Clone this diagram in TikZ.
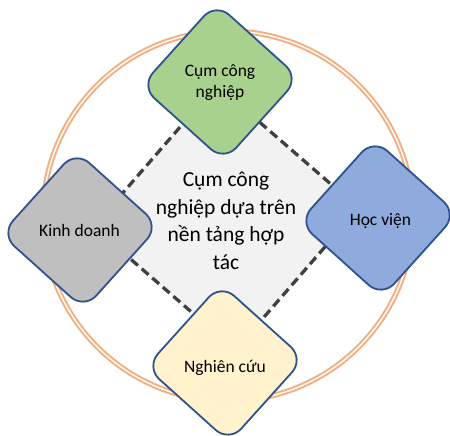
\documentclass[tikz,border=0pt]{standalone}
\usepackage{fontspec}
\setmainfont{Carlito}
\definecolor{ring}{HTML}{F4AF80}
\definecolor{edgeblue}{HTML}{2F528F}
\definecolor{greenfill}{HTML}{A9D18E}
\definecolor{bluefill}{HTML}{8FAADC}
\definecolor{grayfill}{HTML}{BFBFBF}
\definecolor{yellowfill}{HTML}{FFF2CC}
\definecolor{corefill}{HTML}{F2F2F2}
\definecolor{dashcol}{HTML}{404040}
\begin{document}
\begin{tikzpicture}[x=1pt,y=1pt]
\tikzset{
  petal/.style={draw=edgeblue, line width=1.8pt, rounded corners=18pt, minimum size=112pt, inner sep=0pt, rotate=48},
  petaltext/.style={font=\fontsize{17.5}{21}\selectfont, align=center, text=black},
  corebox/.style={draw=dashcol, fill=corefill, line width=3.3pt, dash pattern=on 9pt off 5pt, minimum size=188pt, inner sep=0pt, rotate=49},
  coretext/.style={font=\fontsize{21.5}{27.5}\selectfont, align=center, text=black},
  ringline/.style={draw=ring, line width=2pt, double=white, double distance=1.4pt}
}
\useasboundingbox (0,0) rectangle (450,436);
\fill[white] (0,0) rectangle (450,436);
\node[circle, ringline, minimum size=370pt, inner sep=0pt] (ringc) at (228,220) {};
\node[corebox] (core) at (226,218.5) {};
\node[coretext] (coret) at (226,215) {Cụm công\\nghiệp dựa trên\\nền tảng hợp\\tác};
\node[petal, fill=greenfill] (cluster) at (220,354) {};
\node[petaltext] (clustert) at (220,353.5) {Cụm công\\nghiệp};
\node[petal, fill=bluefill] (academy) at (378,218) {};
\node[petaltext] (academyt) at (380.5,215) {Học viện};
\node[petal, fill=grayfill] (business) at (80,206) {};
\node[petaltext] (businesst) at (79.5,206) {Kinh doanh};
\node[petal, fill=yellowfill] (research) at (225,73) {};
\node[petaltext] (researcht) at (225,68) {Nghiên cứu};
\end{tikzpicture}
\end{document}
